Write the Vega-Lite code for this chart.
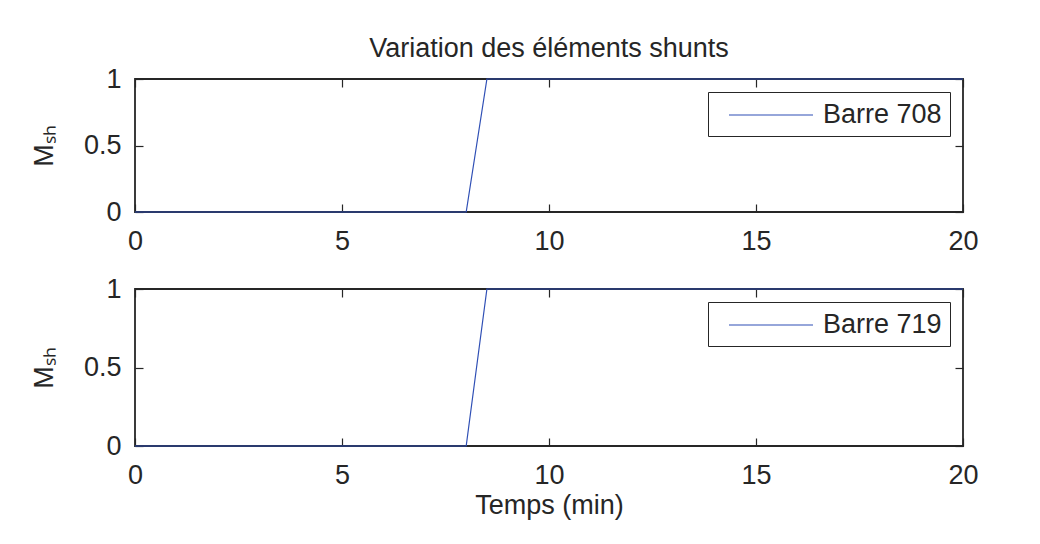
{
  "$schema": "https://vega.github.io/schema/vega-lite/v6.json",
  "padding": {"left": 29, "top": 34, "right": 10, "bottom": 10},
  "background": "white",
  "datasets": {
    "b708": [
      {"t": 0, "m": 0, "serie": "Barre 708"},
      {"t": 8, "m": 0, "serie": "Barre 708"},
      {"t": 8.5, "m": 1, "serie": "Barre 708"},
      {"t": 20, "m": 1, "serie": "Barre 708"}
    ],
    "b719": [
      {"t": 0, "m": 0, "serie": "Barre 719"},
      {"t": 8, "m": 0, "serie": "Barre 719"},
      {"t": 8.5, "m": 1, "serie": "Barre 719"},
      {"t": 20, "m": 1, "serie": "Barre 719"}
    ]
  },
  "spacing": 19,
  "vconcat": [
    {
      "width": 828,
      "height": 133,
      "title": {"text": "Variation des éléments shunts", "offset": 2},
      "data": {"name": "b708"},
      "layer": [
        {
          "mark": {"type": "line", "strokeWidth": 1.2},
          "encoding": {
            "x": {"field": "t", "type": "quantitative", "scale": {"domain": [0, 20], "nice": false}, "axis": {"values": [0, 5, 10, 15, 20], "title": null, "orient": "bottom", "format": "~g"}},
            "y": {"field": "m", "type": "quantitative", "scale": {"domain": [0, 1], "nice": false}, "axis": {"values": [0, 0.5, 1], "title": "Mₛₕ", "orient": "left", "format": "~g", "titlePadding": 25}},
            "color": {"field": "serie", "type": "nominal", "scale": {"range": ["#2f4fb5"]}, "legend": {"title": null}}
          }
        },
        {
          "mark": {"type": "line", "strokeOpacity": 0},
          "encoding": {
            "x": {"field": "t", "type": "quantitative", "axis": {"values": [0, 5, 10, 15, 20], "title": null, "labels": false, "orient": "top"}},
            "y": {"field": "m", "type": "quantitative", "axis": {"values": [0, 0.5, 1], "title": null, "labels": false, "orient": "right"}}
          }
        }
      ],
      "resolve": {"axis": {"x": "independent", "y": "independent"}}
    },
    {
      "width": 828,
      "height": 157,
      "data": {"name": "b719"},
      "layer": [
        {
          "mark": {"type": "line", "strokeWidth": 1.2},
          "encoding": {
            "x": {"field": "t", "type": "quantitative", "scale": {"domain": [0, 20], "nice": false}, "axis": {"values": [0, 5, 10, 15, 20], "title": "Temps (min)", "orient": "bottom", "format": "~g"}},
            "y": {"field": "m", "type": "quantitative", "scale": {"domain": [0, 1], "nice": false}, "axis": {"values": [0, 0.5, 1], "title": "Mₛₕ", "orient": "left", "format": "~g", "titlePadding": 25}},
            "color": {"field": "serie", "type": "nominal", "scale": {"range": ["#2f4fb5"]}, "legend": {"title": null}}
          }
        },
        {
          "mark": {"type": "line", "strokeOpacity": 0},
          "encoding": {
            "x": {"field": "t", "type": "quantitative", "axis": {"values": [0, 5, 10, 15, 20], "title": null, "labels": false, "orient": "top"}},
            "y": {"field": "m", "type": "quantitative", "axis": {"values": [0, 0.5, 1], "title": null, "labels": false, "orient": "right"}}
          }
        }
      ],
      "resolve": {"axis": {"x": "independent", "y": "independent"}}
    }
  ],
  "resolve": {"scale": {"color": "independent"}, "legend": {"color": "independent"}},
  "config": {
    "font": "Liberation Sans",
    "view": {"stroke": "#262626", "strokeWidth": 1.8},
    "axis": {
      "domain": false,
      "grid": false,
      "ticks": true,
      "tickSize": -8,
      "tickColor": "#262626",
      "tickWidth": 1.2,
      "labelFontSize": 27,
      "labelColor": "#262626",
      "labelFont": "Liberation Sans",
      "titleFont": "Liberation Sans",
      "titleFontSize": 27,
      "titleFontWeight": "normal",
      "titleColor": "#262626",
      "labelFlush": false,
      "labelOverlap": false
    },
    "axisY": {"labelPadding": 22},
    "axisX": {"titlePadding": 4, "labelPadding": 24},
    "title": {"fontSize": 27, "font": "Liberation Sans", "fontWeight": "normal", "color": "#262626", "anchor": "middle"},
    "legend": {
      "orient": "top-right",
      "offset": 13,
      "strokeColor": "#262626",
      "fillColor": "white",
      "padding": 8,
      "cornerRadius": 0,
      "labelFontSize": 27,
      "labelFont": "Liberation Sans",
      "labelColor": "#262626",
      "symbolType": "M-3,0H3",
      "symbolSize": 784,
      "symbolStrokeWidth": 1.2,
      "symbolOffset": 40,
      "labelOffset": 37
    }
  }
}
